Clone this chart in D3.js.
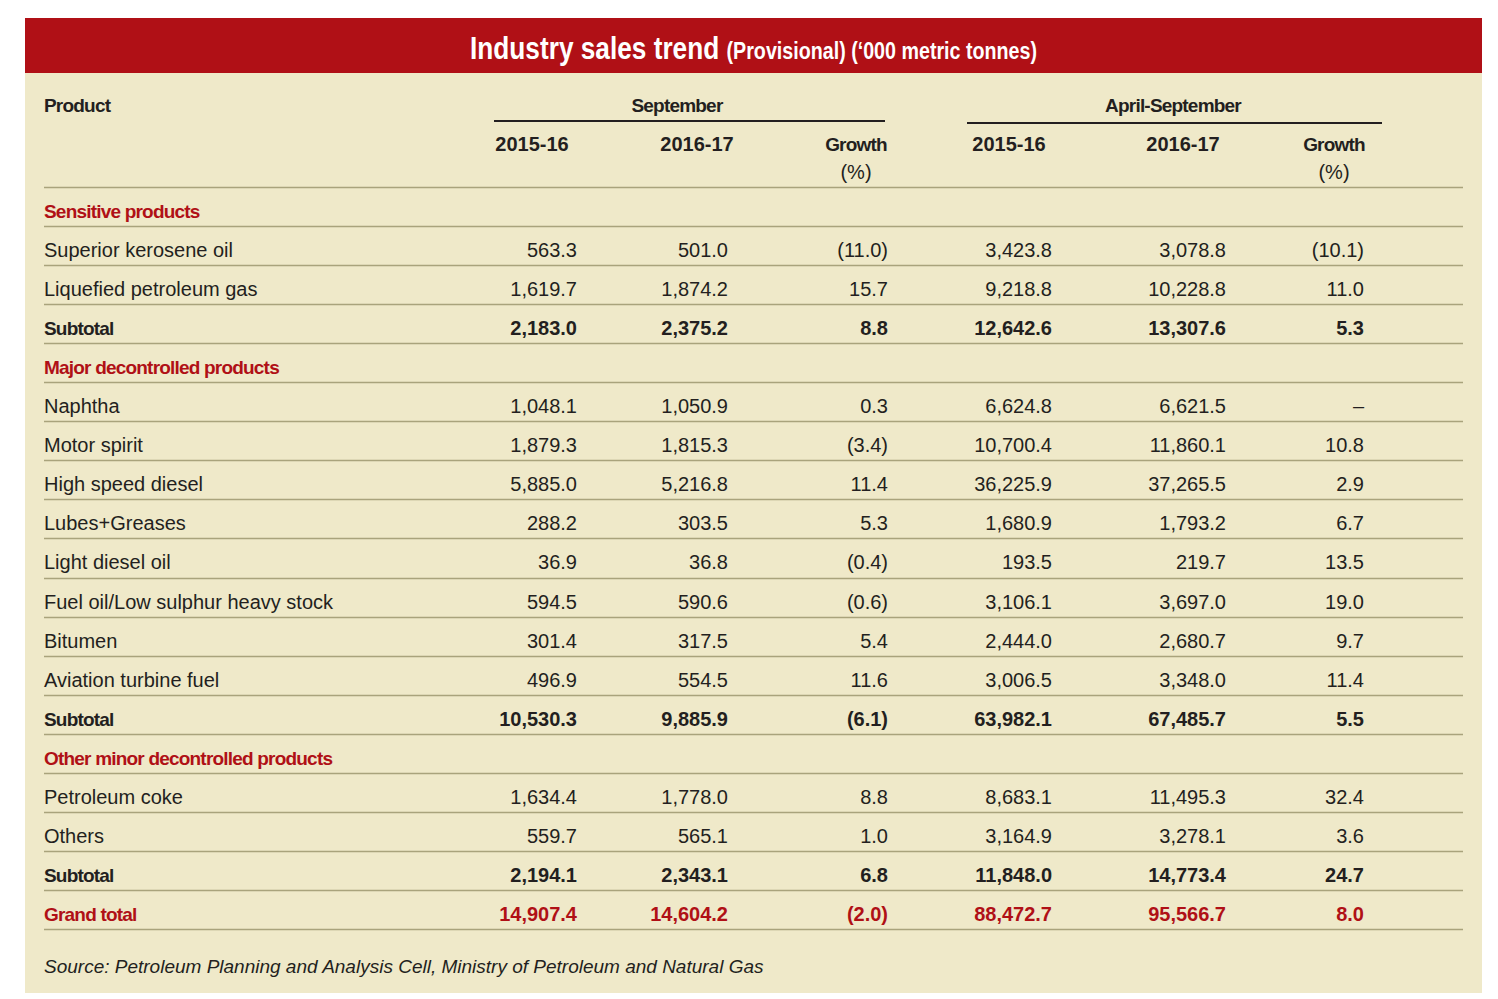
<!DOCTYPE html>
<html>
<head>
<meta charset="utf-8">
<script src="https://cdn.jsdelivr.net/npm/d3@7"></script>
<style>
  body { margin: 0; background: #fff; }
  svg { display: block; }
  .num { font-family: "Liberation Sans", Arial, sans-serif; font-size: 20px; }
  .lbl { font-family: "Liberation Sans", Arial, sans-serif; font-size: 20px; }
  .bold { font-weight: bold; letter-spacing: -0.8px; font-size: 19px; }
  .boldnum { font-weight: bold; font-size: 20px; }
</style>
</head>
<body>
<svg width="1498" height="999"></svg>
<script>
const title = "Industry sales trend";
const subtitle = "(Provisional) (\u2018000 metric tonnes)";
const source = "Source: Petroleum Planning and Analysis Cell, Ministry of Petroleum and Natural Gas";

const groups = ["September", "April-September"];
const years = ["2015-16", "2016-17"];

// row kinds: section / item / subtotal / grand
const products = [
  "Sensitive products", "Superior kerosene oil", "Liquefied petroleum gas", "Subtotal",
  "Major decontrolled products", "Naphtha", "Motor spirit", "High speed diesel",
  "Lubes+Greases", "Light diesel oil", "Fuel oil/Low sulphur heavy stock", "Bitumen",
  "Aviation turbine fuel", "Subtotal",
  "Other minor decontrolled products", "Petroleum coke", "Others", "Subtotal",
  "Grand total"
];
const kinds = [
  "section", "item", "item", "subtotal",
  "section", "item", "item", "item", "item", "item", "item", "item", "item", "subtotal",
  "section", "item", "item", "subtotal",
  "grand"
];
const sep1516 = [null, 563.3, 1619.7, 2183.0, null, 1048.1, 1879.3, 5885.0, 288.2, 36.9, 594.5, 301.4, 496.9, 10530.3, null, 1634.4, 559.7, 2194.1, 14907.4];
const sep1617 = [null, 501.0, 1874.2, 2375.2, null, 1050.9, 1815.3, 5216.8, 303.5, 36.8, 590.6, 317.5, 554.5, 9885.9, null, 1778.0, 565.1, 2343.1, 14604.2];
const sepGrowth = [null, -11.0, 15.7, 8.8, null, 0.3, -3.4, 11.4, 5.3, -0.4, -0.6, 5.4, 11.6, -6.1, null, 8.8, 1.0, 6.8, -2.0];
const apr1516 = [null, 3423.8, 9218.8, 12642.6, null, 6624.8, 10700.4, 36225.9, 1680.9, 193.5, 3106.1, 2444.0, 3006.5, 63982.1, null, 8683.1, 3164.9, 11848.0, 88472.7];
const apr1617 = [null, 3078.8, 10228.8, 13307.6, null, 6621.5, 11860.1, 37265.5, 1793.2, 219.7, 3697.0, 2680.7, 3348.0, 67485.7, null, 11495.3, 3278.1, 14773.4, 95566.7];
const aprGrowth = [null, -10.1, 11.0, 5.3, null, "nil", 10.8, 2.9, 6.7, 13.5, 19.0, 9.7, 11.4, 5.5, null, 32.4, 3.6, 24.7, 8.0];

const RED = "#b01016";
const INK = "#231f20";
const RULE = "#a9a37c";

const svg = d3.select("svg");

// panel
svg.append("rect").attr("x", 25).attr("y", 18).attr("width", 1457).attr("height", 975).attr("fill", "#efe9c9");
svg.append("rect").attr("x", 25).attr("y", 18).attr("width", 1457).attr("height", 55).attr("fill", RED);

// no narrow font installed, so squeeze the title horizontally
const t = svg.append("text")
  .attr("transform", "translate(753.5,59) scale(0.82,1)")
  .attr("text-anchor", "middle")
  .attr("fill", "#fff")
  .style("font-family", "'Liberation Sans', Arial, sans-serif")
  .style("font-weight", "bold");
t.append("tspan").style("font-size", "32px").text(title + " ");
t.append("tspan").style("font-size", "24px").text(subtitle);

// columns
const cols = ["sep1516", "sep1617", "sepGrowth", "apr1516", "apr1617", "aprGrowth"];
const colData = { sep1516, sep1617, sepGrowth, apr1516, apr1617, aprGrowth };
const xRight = d3.scaleOrdinal().domain(cols).range([577, 728, 888, 1052, 1226, 1364]);
const xHead = d3.scaleOrdinal().domain(cols).range([532, 697, 856, 1009, 1183, 1334]);
const groupX = d3.scaleOrdinal().domain(groups).range([677, 1173]);
const groupSpan = d3.scaleOrdinal().domain(groups).range([[494, 885], [967, 1382]]);
const groupLineY = d3.scaleOrdinal().domain(groups).range([121, 123]);

const y = d3.scaleBand().domain(d3.range(products.length)).range([187, 929]);
const left = 44, right = 1463;

// header
const head = svg.append("g").attr("fill", INK);
head.append("text").attr("class", "lbl bold").attr("x", left).attr("y", 112).text("Product");
head.selectAll("text.grp").data(groups).join("text")
  .attr("class", "grp lbl bold").attr("x", d => groupX(d)).attr("y", 112)
  .attr("text-anchor", "middle").text(d => d);
head.selectAll("line.grp").data(groups).join("line")
  .attr("class", "grp")
  .attr("x1", d => groupSpan(d)[0]).attr("x2", d => groupSpan(d)[1])
  .attr("y1", d => groupLineY(d)).attr("y2", d => groupLineY(d))
  .attr("stroke", INK).attr("stroke-width", 2);
head.selectAll("text.yr").data(cols).join("text")
  .attr("class", d => d.endsWith("Growth") ? "yr lbl bold" : "yr lbl boldnum")
  .attr("x", d => xHead(d)).attr("y", 151)
  .attr("text-anchor", "middle")
  .attr("font-weight", "bold")
  .text((d, i) => d.endsWith("Growth") ? "Growth" : years[i % 3]);
head.selectAll("text.pct").data(cols.filter(c => c.endsWith("Growth"))).join("text")
  .attr("class", "pct lbl").attr("x", d => xHead(d)).attr("y", 179)
  .attr("text-anchor", "middle").text("(%)");

// rules
const ruleYs = [187].concat(d3.range(products.length).map(i => y(i) + y.bandwidth()));
svg.append("g").selectAll("line").data(ruleYs).join("line")
  .attr("x1", left).attr("x2", right)
  .attr("y1", d => Math.round(d) + 0.5).attr("y2", d => Math.round(d) + 0.5)
  .attr("stroke", RULE).attr("stroke-width", 1.6);

// rows
const fmt = d3.format(",.1f");
function cell(v, growth) {
  if (v === null) return "";
  if (v === "nil") return "\u2013";
  if (growth && v < 0) return "(" + fmt(-v) + ")";
  return fmt(v);
}

const rows = svg.append("g").selectAll("g").data(products).join("g")
  .attr("transform", (d, i) => `translate(0,${y(i) + 31})`)
  .attr("fill", (d, i) => (kinds[i] === "section" || kinds[i] === "grand") ? RED : INK);

rows.append("text")
  .attr("x", left)
  .attr("class", (d, i) => kinds[i] === "item" ? "lbl" : "lbl bold")
  .text(d => d);

cols.forEach(c => {
  rows.append("text")
    .attr("x", xRight(c))
    .attr("text-anchor", "end")
    .attr("class", (d, i) => (kinds[i] === "subtotal" || kinds[i] === "grand") ? "num boldnum" : "num")
    .attr("font-weight", (d, i) => (kinds[i] === "subtotal" || kinds[i] === "grand") ? "bold" : null)
    .text((d, i) => cell(colData[c][i], c.endsWith("Growth")));
});

// source
svg.append("text")
  .attr("x", left).attr("y", 973)
  .attr("fill", INK)
  .style("font-family", "'Liberation Sans', Arial, sans-serif")
  .style("font-size", "19px")
  .style("font-style", "italic")
  .text(source);
</script>
</body>
</html>
